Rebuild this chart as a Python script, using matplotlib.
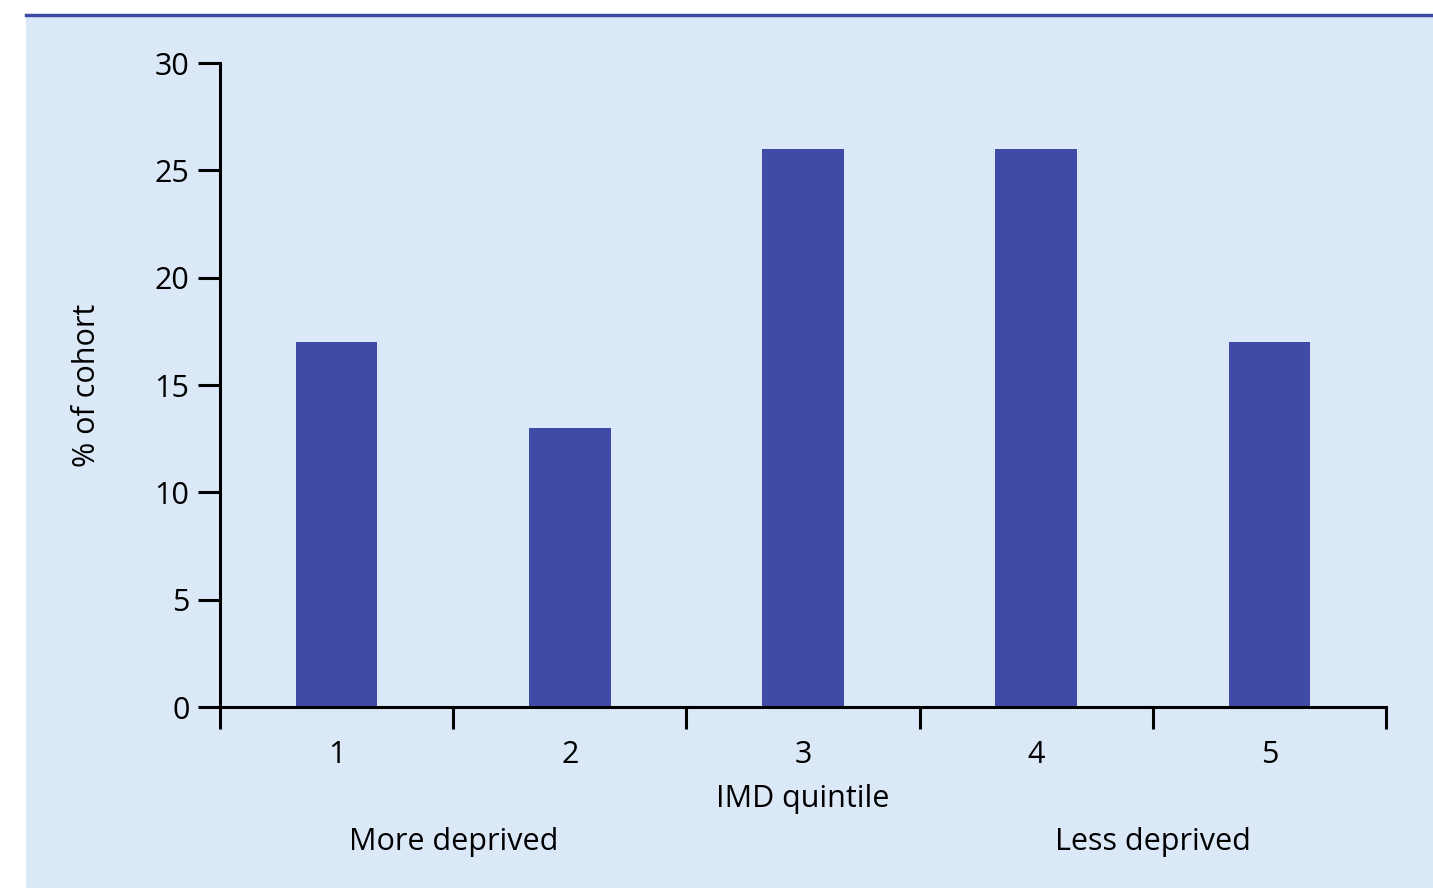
import matplotlib.pyplot as plt
from matplotlib.patches import Rectangle
from matplotlib.lines import Line2D
from matplotlib.transforms import blended_transform_factory

# ── data ─────────────────────────────────────────────
quintiles = [1, 2, 3, 4, 5]
pct_cohort = [17, 13, 26, 26, 17]
y_ticks = [0, 5, 10, 15, 20, 25, 30]

panel_col = '#dbe8f7'
bar_col = '#3f4ba5'

plt.rcParams['font.family'] = ['Open Sans', 'DejaVu Sans']

fig = plt.figure(figsize=(14.33, 8.88), dpi=100)
fig.patch.set_facecolor('white')

# light blue panel with dark rule on top
fig.patches.append(Rectangle((26 / 1433, 0), 1 - 26 / 1433, (888 - 15) / 888,
                             transform=fig.transFigure, facecolor=panel_col,
                             edgecolor='none', zorder=-5))
fig.lines.append(Line2D([26 / 1433, 1], [(888 - 15) / 888] * 2,
                        transform=fig.transFigure, color=bar_col, lw=2.5, zorder=-4))

ax = fig.add_axes([220 / 1433, (888 - 707) / 888, (1386 - 220) / 1433, 644 / 888])
ax.set_facecolor('none')
ax.set_zorder(2)

ax.bar(quintiles, pct_cohort, width=0.35, color=bar_col, zorder=2)

ax.set_xlim(0.5, 5.5)
ax.set_ylim(0, 30)
ax.set_yticks(y_ticks)
ax.set_xticks([q + 0.5 for q in [0] + quintiles])
ax.set_xticklabels([])
ax.set_xticks(quintiles, minor=True)
ax.set_xticklabels([str(q) for q in quintiles], minor=True)

for s in ['top', 'right']:
    ax.spines[s].set_visible(False)
for s in ['left', 'bottom']:
    ax.spines[s].set_linewidth(2.2)
    ax.spines[s].set_color('black')

fs = 22
ax.tick_params(axis='y', which='major', length=16, width=2.2, labelsize=fs, pad=6)
ax.tick_params(axis='x', which='major', length=16, width=2.2)
ax.tick_params(axis='x', which='minor', length=0, labelsize=fs, pad=24)

ax.set_ylabel('% of cohort', fontsize=fs, labelpad=38)
ax.set_xlabel('IMD quintile', fontsize=fs, labelpad=10)

trans = blended_transform_factory(ax.transData, ax.transAxes)
ax.text(1.5, -0.21, 'More deprived', transform=trans, ha='center', va='center', fontsize=fs)
ax.text(4.5, -0.21, 'Less deprived', transform=trans, ha='center', va='center', fontsize=fs)

plt.savefig('out.png', dpi=100)
